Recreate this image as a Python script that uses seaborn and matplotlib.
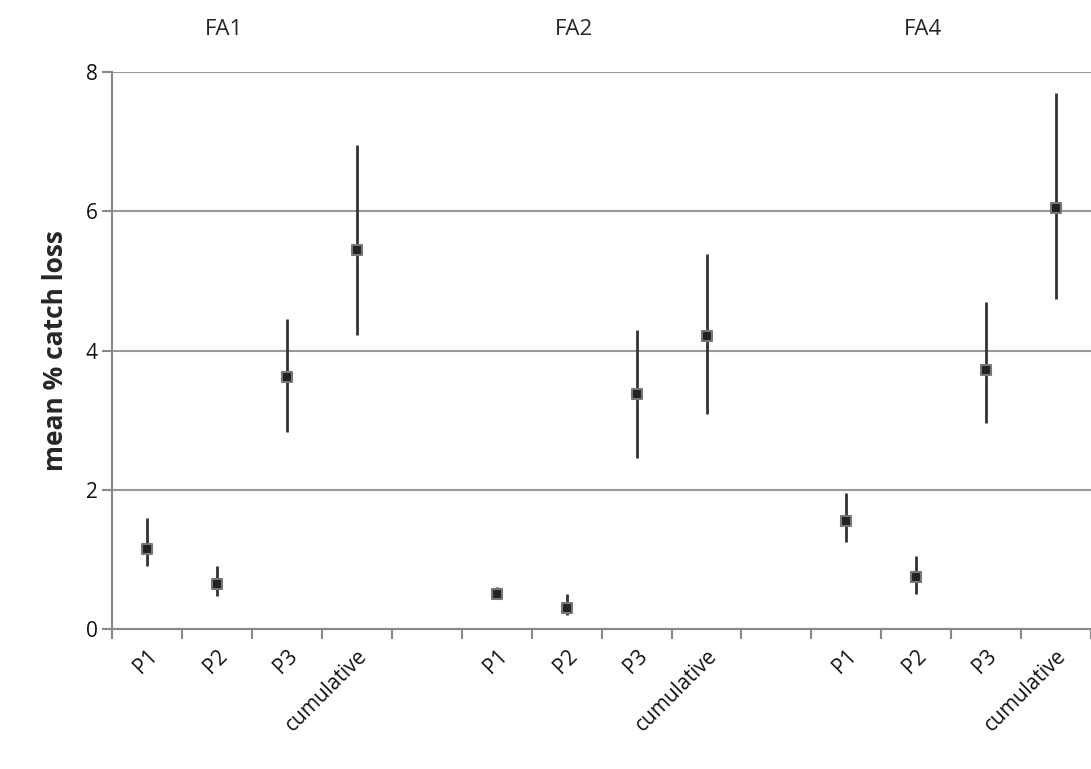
import numpy as np
import pandas as pd
import seaborn as sns
import matplotlib.pyplot as plt

groups = ['FA1', 'FA2', 'FA4']
periods = ['P1', 'P2', 'P3', 'cumulative']
mean_loss = [1.15, 0.65, 3.62, 5.45,
             0.50, 0.30, 3.38, 4.21,
             1.55, 0.75, 3.72, 6.05]
upper = [1.60, 0.90, 4.45, 6.95,
         0.60, 0.50, 4.30, 5.39,
         1.95, 1.05, 4.70, 7.70]
lower = [0.90, 0.48, 2.83, 4.22,
         0.45, 0.20, 2.46, 3.09,
         1.25, 0.50, 2.96, 4.74]

sns.set_style('white')
plt.rcParams['font.family'] = ['Open Sans', 'DejaVu Sans']

rows = []
for g_i, g in enumerate(groups):
    for p_i, p in enumerate(periods):
        k = g_i * 4 + p_i
        rows.append(dict(group=g, period=p, pos=g_i * 5 + p_i + 0.5,
                         mean=mean_loss[k], lo=lower[k], hi=upper[k]))
df = pd.DataFrame(rows)

fig = plt.figure(figsize=(10.91, 7.69), dpi=100)
ax = fig.add_axes([0.103, 0.182, 0.897, 0.724])

ax.vlines(df['pos'], df['lo'], df['hi'], color='#333333', lw=2, zorder=2)
sns.scatterplot(data=df, x='pos', y='mean', marker='s', s=55, color='#222222',
                edgecolor='#777777', linewidth=1.5, ax=ax, zorder=3, legend=False)

ax.set_xlim(0, 14)
ax.set_ylim(0, 8)
ax.set_yticks([0, 2, 4, 6, 8])
ax.yaxis.grid(True, color='#999999', lw=1.5)
ax.set_axisbelow(True)
for s in ['top', 'right']:
    ax.spines[s].set_visible(False)
for s in ['left', 'bottom']:
    ax.spines[s].set_color('#888888')
    ax.spines[s].set_linewidth(1.5)

ax.set_xticks(df['pos'])
ax.set_xticklabels(df['period'], rotation=45, ha='right', rotation_mode='anchor',
                   fontsize=15, color='#111111')
ax.set_xticks(np.arange(0, 15), minor=True)
ax.tick_params(axis='x', which='major', bottom=True, length=0, pad=12)
ax.tick_params(axis='x', which='minor', bottom=True, length=7, color='#888888',
               width=1.5, direction='out')
ax.tick_params(axis='y', left=True, length=7, color='#888888', width=1.5,
               labelsize=15, labelcolor='#111111', direction='out')
ax.set_xlabel('')
ax.set_ylabel('mean % catch loss', fontsize=19, fontweight='bold', labelpad=12)

for g_i, g in enumerate(groups):
    ax.text(g_i * 5 + 1.6, 8.62, g, ha='center', va='center', fontsize=16)

fig.savefig('out.png', dpi=100)
